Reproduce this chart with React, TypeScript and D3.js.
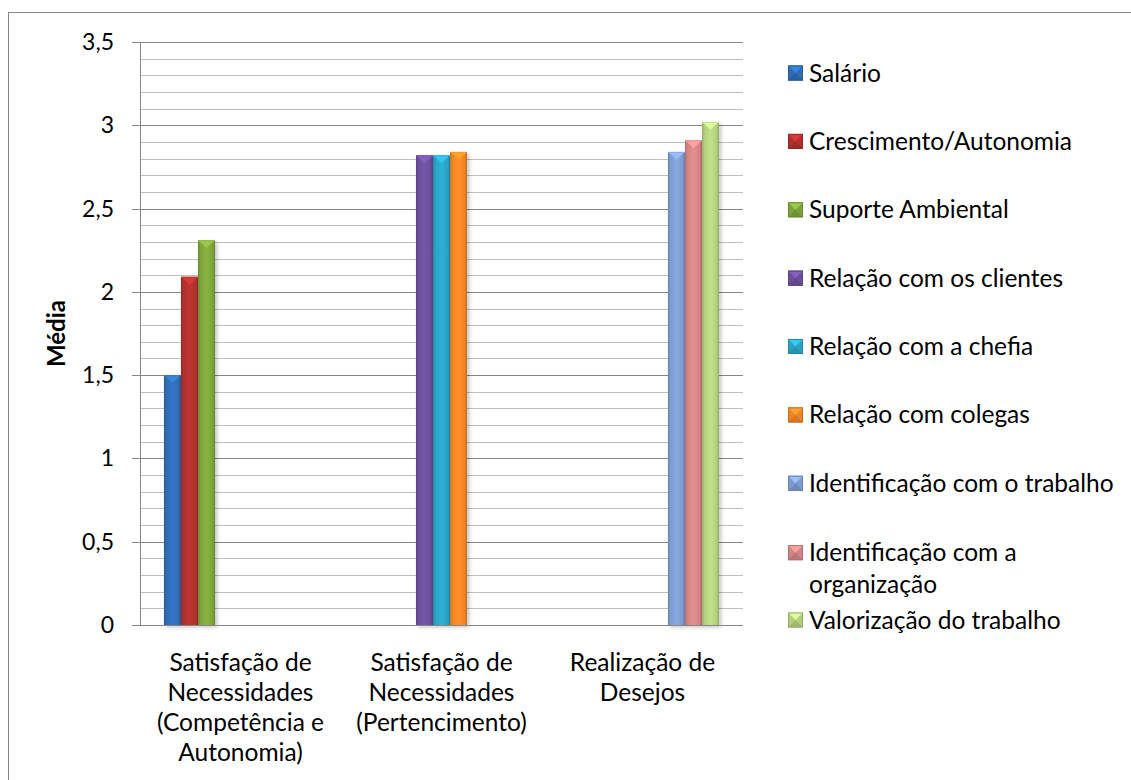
import React from "react";
import * as d3 from "d3";

// ---- DATA ----
const categoryLabels: string[][] = [
  ["Satisfação de", "Necessidades", "(Competência e", "Autonomia)"],
  ["Satisfação de", "Necessidades", "(Pertencimento)"],
  ["Realização de", "Desejos"],
];
const seriesNames: string[] = [
  "Salário",
  "Crescimento/Autonomia",
  "Suporte Ambiental",
  "Relação com os clientes",
  "Relação com a chefia",
  "Relação com colegas",
  "Identificação com o trabalho",
  "Identificação com a organização",
  "Valorização do trabalho",
];
const legendLines: string[][] = [
  ["Salário"],
  ["Crescimento/Autonomia"],
  ["Suporte Ambiental"],
  ["Relação com os clientes"],
  ["Relação com a chefia"],
  ["Relação com colegas"],
  ["Identificação com o trabalho"],
  ["Identificação com a", "organização"],
  ["Valorização do trabalho"],
];
// value of each series in each category (null = no bar)
const salario = [1.5, null, null];
const crescimento = [2.09, null, null];
const suporte = [2.31, null, null];
const clientes = [null, 2.82, null];
const chefia = [null, 2.82, null];
const colegas = [null, 2.84, null];
const identTrabalho = [null, null, 2.84];
const identOrganizacao = [null, null, 2.91];
const valorizacao = [null, null, 3.02];
const seriesValues = [salario, crescimento, suporte, clientes, chefia, colegas, identTrabalho, identOrganizacao, valorizacao];
const seriesColors = ["#2f6cb4", "#b0302d", "#7da43c", "#6b4f9b", "#2aa2c4", "#ef8427", "#7d9bd0", "#d28383", "#b3cf7e"];
const yTicks = [0, 0.5, 1, 1.5, 2, 2.5, 3, 3.5];
const yTickLabels = ["0", "0,5", "1", "1,5", "2", "2,5", "3", "3,5"];
const yMinorTicks = d3.range(0, 36).map((i) => i / 10);
const yTitle = "Média";

// ---- LAYOUT ----
const W = 1131;
const H = 780;
const plotL = 140;
const plotR = 743;
const plotT = 42;
const plotB = 625;
const FONT = "Lato, 'Open Sans', sans-serif";

export default function App() {
  const x0 = d3.scaleBand<number>().domain(d3.range(categoryLabels.length)).range([plotL, plotR]).paddingInner(0).paddingOuter(0);
  const x1 = d3
    .scaleBand<number>()
    .domain(d3.range(seriesNames.length))
    .range([0, x0.bandwidth()])
    .paddingInner(0)
    .paddingOuter(1.41);
  const y = d3.scaleLinear().domain([0, 3.5]).range([plotB, plotT]);
  const legendY = d3.scaleLinear().domain([0, seriesNames.length - 1]).range([73, 620]);

  const lighten = (c: string, k: number) => d3.color(c)!.brighter(k).formatHex();
  const darken = (c: string, k: number) => d3.color(c)!.darker(k).formatHex();

  const bars: any[] = [];
  seriesValues.forEach((vals, s) => {
    vals.forEach((v, c) => {
      if (v == null) return;
      bars.push({ s, c, v });
    });
  });

  return (
    <svg width={W} height={H} style={{ position: "absolute", left: 0, top: 0, display: "block", background: "#fff" }}>
      <defs>
        {seriesColors.map((col, i) => (
          <linearGradient id={`g${i}`} key={i} x1="0" x2="1" y1="0" y2="0">
            <stop offset="0" stopColor={darken(col, 0.5)} />
            <stop offset="0.14" stopColor={col} />
            <stop offset="0.5" stopColor={lighten(col, 0.25)} />
            <stop offset="0.86" stopColor={col} />
            <stop offset="1" stopColor={darken(col, 0.6)} />
          </linearGradient>
        ))}
        <filter id="sh" x="-30%" y="-10%" width="160%" height="120%">
          <feGaussianBlur in="SourceAlpha" stdDeviation="2" />
          <feOffset dx="2" dy="2" result="b" />
          <feComponentTransfer>
            <feFuncA type="linear" slope="0.25" />
          </feComponentTransfer>
          <feMerge>
            <feMergeNode />
            <feMergeNode in="SourceGraphic" />
          </feMerge>
        </filter>
      </defs>

      {/* chart area border */}
      <rect x={8.5} y={12.5} width={1140} height={800} fill="none" stroke="#868686" strokeWidth={1} />

      {/* minor gridlines */}
      {yMinorTicks.map((t) => (
        <line key={`m${t}`} x1={plotL} x2={plotR} y1={Math.round(y(t)) + 0.5} y2={Math.round(y(t)) + 0.5} stroke="#bfbfbf" strokeWidth={1} />
      ))}
      {/* major gridlines */}
      {yTicks.map((t) => (
        <line key={`M${t}`} x1={plotL - 8} x2={plotR} y1={Math.round(y(t)) + 0.5} y2={Math.round(y(t)) + 0.5} stroke="#868686" strokeWidth={1} />
      ))}
      {/* y axis line */}
      <line x1={plotL + 0.5} x2={plotL + 0.5} y1={plotT} y2={plotB} stroke="#868686" strokeWidth={1} />

      {/* bars */}
      {bars.map(({ s, c, v }) => {
        const bx = x0(c)! + x1(s)!;
        const bw = x1.bandwidth();
        const by = y(v);
        const bh = plotB - by;
        const col = seriesColors[s];
        const th = bw * 0.45;
        return (
          <g key={`${s}-${c}`}>
            <rect x={bx} y={by} width={bw} height={bh} fill={`url(#g${s})`} filter="url(#sh)" />
            <polygon points={`${bx},${by} ${bx + bw},${by} ${bx + bw / 2},${by + th}`} fill={lighten(col, 0.6)} opacity={0.9} />
            <line x1={bx} x2={bx + bw} y1={by + 0.5} y2={by + 0.5} stroke={lighten(col, 0.3)} strokeWidth={1} />
          </g>
        );
      })}

      {/* x axis line */}
      <line x1={plotL - 8} x2={plotR} y1={plotB + 0.5} y2={plotB + 0.5} stroke="#868686" strokeWidth={1} />

      {/* y tick labels */}
      {yTicks.map((t, i) => (
        <text key={`yl${t}`} x={114} y={y(t)} dy="0.35em" textAnchor="end" fontFamily={FONT} fontSize={23} fill="#000">
          {yTickLabels[i]}
        </text>
      ))}

      {/* y title */}
      <text
        transform={`translate(65,${(plotT + plotB) / 2}) rotate(-90)`}
        textAnchor="middle"
        fontFamily={FONT}
        fontWeight="bold"
        fontSize={24}
        fill="#000"
      >
        {yTitle}
      </text>

      {/* category labels */}
      {categoryLabels.map((lines, c) => (
        <text key={`c${c}`} textAnchor="middle" fontFamily={FONT} fontSize={24.5} fill="#000">
          {lines.map((ln, j) => (
            <tspan key={j} x={x0(c)! + x0.bandwidth() / 2} y={662 + j * 30} dy="0.35em">
              {ln}
            </tspan>
          ))}
        </text>
      ))}

      {/* legend */}
      {legendLines.map((lines, i) => {
        const ly = legendY(i);
        const col = seriesColors[i];
        const ms = 15;
        const mx = 788;
        const my = ly - ms / 2 + (lines.length > 1 ? 1 : 0);
        return (
          <g key={`lg${i}`}>
            <rect x={mx} y={my} width={ms} height={ms} fill={col} />
            <polygon points={`${mx},${my} ${mx + ms},${my} ${mx + ms / 2},${my + ms / 2}`} fill={lighten(col, 0.6)} />
            <polygon points={`${mx},${my + ms} ${mx + ms},${my + ms} ${mx + ms / 2},${my + ms / 2}`} fill={darken(col, 0.3)} />
            <rect x={mx + 0.5} y={my + 0.5} width={ms - 1} height={ms - 1} fill="none" stroke={darken(col, 0.5)} strokeWidth={1} />
            <text fontFamily={FONT} fontSize={24.5} fill="#000">
              {lines.map((ln, j) => (
                <tspan key={j} x={809} y={ly + j * 32 + (lines.length > 1 ? 1 : 0)} dy="0.35em">
                  {ln}
                </tspan>
              ))}
            </text>
          </g>
        );
      })}
    </svg>
  );
}
